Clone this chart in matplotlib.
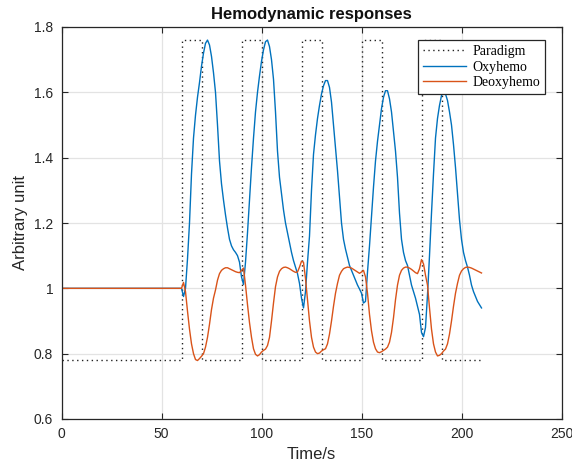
import numpy as np
import matplotlib
matplotlib.use("Agg")
import matplotlib.pyplot as plt

# ---------------- data ----------------
baseline_time = [0]
baseline_level = 1.0
sample_time = np.arange(60, 211)  # 1 s sample grid, 60..210 s

oxyhemo = [
    1.000, 0.975, 1.000, 1.090, 1.200, 1.350, 1.460, 1.530, 1.585, 1.630,   # 60-69
    1.680, 1.720, 1.750, 1.760, 1.745, 1.710, 1.660, 1.600, 1.500, 1.390,   # 70-79
    1.320, 1.270, 1.225, 1.185, 1.150, 1.130, 1.118, 1.110, 1.100, 1.080,   # 80-89
    1.035, 1.012, 1.080, 1.170, 1.270, 1.370, 1.460, 1.540, 1.600, 1.650,   # 90-99
    1.695, 1.730, 1.755, 1.760, 1.740, 1.700, 1.640, 1.540, 1.420, 1.340,   # 100-109
    1.290, 1.240, 1.200, 1.170, 1.140, 1.110, 1.085, 1.065, 1.045, 1.015,   # 110-119
    0.970, 0.940, 0.990, 1.080, 1.160, 1.300, 1.410, 1.470, 1.520, 1.560,   # 120-129
    1.595, 1.620, 1.636, 1.636, 1.615, 1.570, 1.500, 1.430, 1.360, 1.280,   # 130-139
    1.200, 1.150, 1.120, 1.095, 1.070, 1.055, 1.040, 1.025, 1.010, 0.998,   # 140-149
    0.985, 0.955, 0.960, 1.050, 1.130, 1.220, 1.310, 1.390, 1.450, 1.500,   # 150-159
    1.550, 1.585, 1.605, 1.605, 1.580, 1.540, 1.480, 1.420, 1.340, 1.230,   # 160-169
    1.150, 1.110, 1.085, 1.070, 1.040, 1.010, 0.990, 0.970, 0.945, 0.920,   # 170-179
    0.865, 0.852, 0.880, 0.980, 1.100, 1.230, 1.350, 1.460, 1.520, 1.560,   # 180-189
    1.590, 1.600, 1.595, 1.575, 1.540, 1.500, 1.440, 1.370, 1.290, 1.210,   # 190-199
    1.150, 1.110, 1.085, 1.065, 1.040, 1.010, 0.990, 0.975, 0.960, 0.950,   # 200-209
    0.940,                                                                  # 210
]

deoxyhemo = [
    1.000, 1.018, 0.990, 0.930, 0.875, 0.830, 0.800, 0.782, 0.779, 0.785,   # 60-69
    0.792, 0.800, 0.820, 0.850, 0.890, 0.935, 0.970, 0.995, 1.025, 1.045,   # 70-79
    1.055, 1.060, 1.063, 1.063, 1.060, 1.057, 1.054, 1.051, 1.049, 1.048,   # 80-89
    1.055, 1.062, 1.010, 0.950, 0.895, 0.850, 0.815, 0.798, 0.793, 0.797,   # 90-99
    0.805, 0.810, 0.814, 0.825, 0.850, 0.900, 0.955, 1.005, 1.035, 1.052,   # 100-109
    1.060, 1.064, 1.065, 1.063, 1.060, 1.056, 1.052, 1.049, 1.050, 1.065,   # 110-119
    1.083, 1.080, 1.030, 0.965, 0.900, 0.850, 0.820, 0.805, 0.800, 0.802,   # 120-129
    0.808, 0.812, 0.815, 0.830, 0.860, 0.900, 0.945, 0.985, 1.015, 1.040,   # 130-139
    1.052, 1.060, 1.063, 1.065, 1.064, 1.062, 1.058, 1.054, 1.050, 1.046,   # 140-149
    1.050, 1.055, 1.035, 0.985, 0.920, 0.870, 0.835, 0.815, 0.805, 0.803,   # 150-159
    0.806, 0.810, 0.814, 0.820, 0.835, 0.865, 0.910, 0.965, 1.010, 1.040,   # 160-169
    1.055, 1.062, 1.065, 1.065, 1.062, 1.058, 1.053, 1.048, 1.045, 1.060,   # 170-179
    1.088, 1.075, 1.040, 1.010, 0.940, 0.875, 0.830, 0.805, 0.793, 0.795,   # 180-189
    0.800, 0.808, 0.814, 0.830, 0.860, 0.900, 0.945, 0.985, 1.015, 1.040,   # 190-199
    1.053, 1.060, 1.064, 1.065, 1.064, 1.062, 1.059, 1.056, 1.053, 1.050,   # 200-209
    1.047,                                                                  # 210
]

stim_onsets = [60, 90, 120, 150, 180]
stim_duration = 10
paradigm_low = 0.78
paradigm_high = 1.76
paradigm_end = 210

x_ticks = [0, 50, 100, 150, 200, 250]
y_ticks = [0.6, 0.8, 1.0, 1.2, 1.4, 1.6, 1.8]
y_tick_labels = ["0.6", "0.8", "1", "1.2", "1.4", "1.6", "1.8"]

# ---------------- build paradigm step ----------------
par_t = [0]
par_v = [paradigm_low]
for on in stim_onsets:
    par_t += [on, on, on + stim_duration, on + stim_duration]
    par_v += [paradigm_low, paradigm_high, paradigm_high, paradigm_low]
par_t.append(paradigm_end)
par_v.append(paradigm_low)

t_full = np.concatenate([baseline_time, sample_time])
oxy_full = np.concatenate([[baseline_level], oxyhemo])
deoxy_full = np.concatenate([[baseline_level], deoxyhemo])

# ---------------- plot ----------------
plt.rcParams['font.family'] = ['Liberation Sans', 'DejaVu Sans']
fig = plt.figure(figsize=(5.72, 4.70), dpi=100)
ax = fig.add_axes([61.5 / 572, 1 - 419 / 470, 500 / 572, 392 / 470])

ax.plot(par_t, par_v, linestyle=(0, (1, 2.5)), color='#222222', lw=1.0,
        label='Paradigm')
ax.plot(t_full, oxy_full, color='#0072BD', lw=1.0, label='Oxyhemo')
ax.plot(t_full, deoxy_full, color='#D95319', lw=1.0, label='Deoxyhemo')

ax.set_xlim(0, 250)
ax.set_ylim(0.6, 1.8)
ax.set_xticks(x_ticks)
ax.set_xticklabels([str(v) for v in x_ticks])
ax.set_yticks(y_ticks)
ax.set_yticklabels(y_tick_labels)

ax.grid(True, color='#e3e3e3', lw=0.9)
ax.set_axisbelow(True)
for sp in ax.spines.values():
    sp.set_color('#262626')
    sp.set_linewidth(0.9)
ax.tick_params(direction='in', length=4.5, width=0.8, colors='#262626',
               labelsize=10, top=True, right=True, pad=6)

ax.set_xlabel('Time/s', fontsize=12, color='#262626', labelpad=4)
ax.set_ylabel('Arbitrary unit', fontsize=12, color='#262626', labelpad=4)
ax.set_title('Hemodynamic responses', fontsize=12, fontweight='bold',
             color='#111111', pad=6)

leg = ax.legend(loc='upper right', bbox_to_anchor=(0.967, 0.967),
                borderaxespad=0, fancybox=False, framealpha=1,
                edgecolor='#262626', handlelength=3.1, handletextpad=0.45,
                labelspacing=0.2, borderpad=0.35,
                prop={'family': ['Liberation Serif'], 'size': 10})
leg.get_frame().set_linewidth(0.9)

fig.savefig('out.png', dpi=100)
